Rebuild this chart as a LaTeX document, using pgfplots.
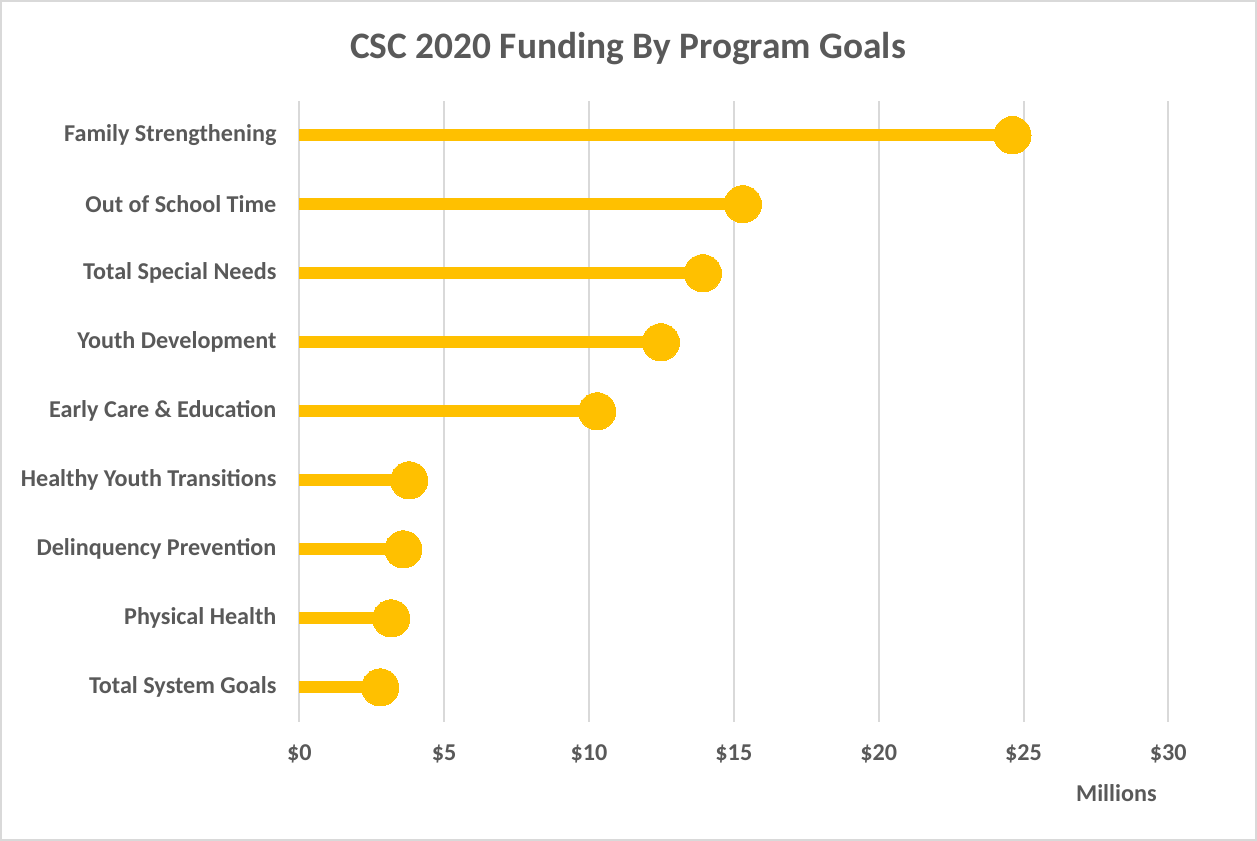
\documentclass[border=0pt]{standalone}
\usepackage{pgfplots}
\pgfplotsset{compat=1.18}
\usepackage{pgfplotstable}
\usepackage{fontspec}
\setmainfont{Carlito}
\definecolor{txtgray}{HTML}{595959}
\definecolor{gridgray}{HTML}{D9D9D9}
\definecolor{gold}{HTML}{FFC000}

% value in $ millions, row index from bottom
\pgfplotstableread{
val idx
2.79  0
3.17  1
3.59  2
3.79  3
10.28 4
12.48 5
13.93 6
15.31 7
24.62 8
}\funding

\begin{document}
\begin{tikzpicture}
\draw[gridgray, line width=0.8pt] (0,0) rectangle (628.5pt,420pt);
\node[txtgray, font=\fontsize{18.7}{20}\selectfont\bfseries] at (314pt,396pt) {CSC 2020 Funding By Program Goals};
\node[txtgray, font=\fontsize{12.1}{13}\selectfont\bfseries] at (558.5pt,23.5pt) {Millions};
\begin{axis}[
  at={(149.5pt,59pt)}, anchor=south west,
  scale only axis,
  width=435pt, height=311pt,
  xmin=0, xmax=30,
  ymin=-0.5, ymax=8.5,
  xtick={0,5,...,30},
  xticklabels={\$0,\$5,\$10,\$15,\$20,\$25,\$30},
  ytick={0,...,8},
  yticklabels={Total System Goals,Physical Health,Delinquency Prevention,Healthy Youth Transitions,Early Care \& Education,Youth Development,Total Special Needs,Out of School Time,Family Strengthening},
  xmajorgrids,
  grid style={gridgray, line width=1pt},
  axis line style={draw=none},
  major tick length=0pt,
  tick label style={txtgray, font=\fontsize{12.1}{13}\selectfont\bfseries},
  xticklabel style={yshift=-8pt},
  yticklabel style={xshift=-8pt},
  clip=false,
]
\addplot[xcomb, gold, line width=6pt, mark=*, mark size=9.3pt,
  mark options={draw=none, fill=gold, line width=0pt}] table[x=val, y=idx] {\funding};
\end{axis}
\end{tikzpicture}
\end{document}
